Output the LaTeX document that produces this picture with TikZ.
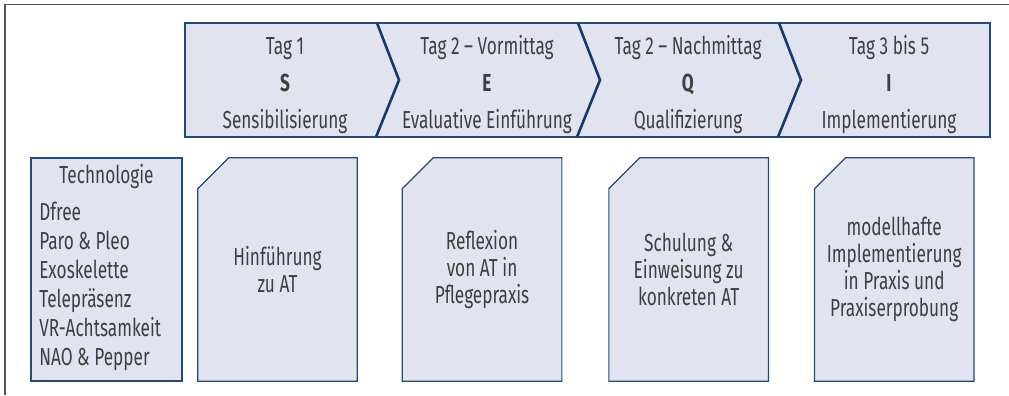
\documentclass[tikz,border=0pt]{standalone}
\usepackage{fontspec}
\setmainfont{Fira Sans}[FakeStretch=0.7]
\usepackage{tikz}
\usetikzlibrary{positioning}
\usetikzlibrary{backgrounds}
\definecolor{boxfill}{HTML}{E1E4EF}
\definecolor{boxline}{HTML}{24497A}
\definecolor{divline}{HTML}{173A6B}
\definecolor{txtgray}{HTML}{3F3F3F}
\definecolor{framegray}{HTML}{555555}

\begin{document}
\begin{tikzpicture}[x=0.25mm,y=0.25mm]
\tikzstyle{hdr text}=[anchor=base,inner sep=0,text=txtgray,font=\fontsize{17.5}{19}\selectfont]
\tikzstyle{list text}=[anchor=base west,inner sep=0,text=txtgray,font=\fontsize{17.5}{19}\selectfont]
\tikzset{
  card/.style = {rectangle,inner sep=0,
    minimum width=39.75mm,minimum height=55.75mm,
    align=center,text=txtgray,font=\fontsize{17.5}{19.2}\selectfont},
  card edge/.style = {draw=boxline,fill=boxfill,line width=0.3mm,line join=miter},
  tech box/.style = {rectangle,draw=boxline,fill=boxfill,line width=0.3mm,
    minimum width=37.75mm,minimum height=55.75mm},
  phase bar/.style = {draw=boxline,fill=boxfill,line width=0.3mm},
  phase cut/.style = {draw=divline,line width=0.65mm}
}

\useasboundingbox (0,0) rectangle (1009,395);
\draw[framegray,line width=0.35mm] (5,0) -- (5,390.5) -- (1009,390.5);

% phases
\draw[phase bar] (185,258) rectangle (990,372);
\draw[phase cut] (377,372) -- (399,315) -- (376,258);
\draw[phase cut] (578,372) -- (600,315) -- (577,258);
\draw[phase cut] (779,372) -- (801,315) -- (778,258);

    \node[hdr text]   (d1)   at (285,341)   {Tag 1};
    \node[hdr text]   (ls)   at (285,304)   {\textbf{S}};
    \node[hdr text]   (ns)   at (285,267)   {Sensibilisierung};
    \node[hdr text]   (d2)   at (487,341)   {Tag 2 – Vormittag};
    \node[hdr text]   (le)   at (487,304)   {\textbf{E}};
    \node[hdr text]   (ne)   at (487,267)   {Evaluative Einführung};
    \node[hdr text]   (d3)   at (688,341)   {Tag 2 – Nachmittag};
    \node[hdr text]   (lq)   at (688,304)   {\textbf{Q}};
    \node[hdr text]   (nq)   at (688,267)   {Qualifizierung};
    \node[hdr text]   (d4)   at (889,341)   {Tag 3 bis 5};
    \node[hdr text]   (li)   at (889,304)   {\textbf{I}};
    \node[hdr text]   (ni)   at (889,267)   {Implementierung};

% technology list
    \node[tech box]   (tech)  at (106.5,125.5)  {};
    \node[hdr text]   (techt) at (106.5,212)    {Technologie};
    \node[list text]  (t1)    at (39,175)       {Dfree};
    \node[list text]  (t2)    at (39,146)       {Paro \& Pleo};
    \node[list text]  (t3)    at (39,117)       {Exoskelette};
    \node[list text]  (t4)    at (39,88)        {Telepräsenz};
    \node[list text]  (t5)    at (39,59)        {VR-Achtsamkeit};
    \node[list text]  (t6)    at (39,30)        {NAO \& Pepper};

% cards
    \node[card]   (cs)   at (277.5,125.5)          {Hinführung\\zu AT};
    \node[card]   (ce)   [right=11.25mm of cs]    {Reflexion\\von AT in\\Pflegepraxis};
    \node[card]   (cq)   [right=11.75mm of ce]    {Schulung \&\\Einweisung zu\\konkreten AT};
    \node[card]   (ci)   [right=11.5mm of cq]     {modellhafte\\Implementierung\\in Praxis und\\Praxiserprobung};

\begin{scope}[on background layer]
\draw[card edge] ([yshift=-7.75mm]cs.north west) -- ([xshift=7.75mm]cs.north west) -- (cs.north east) -- (cs.south east) -- (cs.south west) -- cycle;
\draw[card edge] ([yshift=-7.75mm]ce.north west) -- ([xshift=7.75mm]ce.north west) -- (ce.north east) -- (ce.south east) -- (ce.south west) -- cycle;
\draw[card edge] ([yshift=-7.75mm]cq.north west) -- ([xshift=7.75mm]cq.north west) -- (cq.north east) -- (cq.south east) -- (cq.south west) -- cycle;
\draw[card edge] ([yshift=-7.75mm]ci.north west) -- ([xshift=7.75mm]ci.north west) -- (ci.north east) -- (ci.south east) -- (ci.south west) -- cycle;
\end{scope}
\end{tikzpicture}
\end{document}
